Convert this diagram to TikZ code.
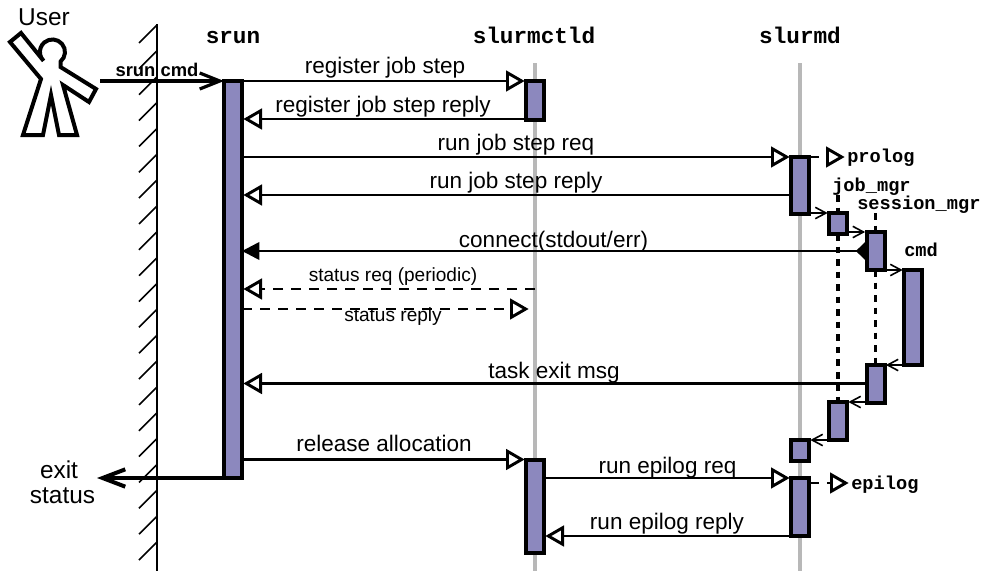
\documentclass[tikz,border=0pt]{standalone}
\usepackage{fontspec}
\setmainfont{Liberation Sans}
\setmonofont{Liberation Mono}
\usetikzlibrary{arrows.meta}
\definecolor{actfill}{RGB}{140,136,190}
\definecolor{lifegray}{RGB}{184,184,184}
\tikzset{
    actbox/.style={draw,line width=3pt,fill=actfill,anchor=north,minimum width=13.5pt,inner sep=0pt,outer sep=0pt},
    msg/.style={line width=2pt,-{Triangle[open,fill=white,length=14pt,width=15.5pt,line width=2.2pt]},shorten >=1pt},
    msgdash/.style={msg,dash pattern=on 7.5pt off 6pt},
    hop/.style={line width=1.3pt,-{Straight Barb[length=8pt,width=8.5pt,line width=1.2pt]},shorten >=1pt},
    cmdmsg/.style={line width=2.4pt,-{Straight Barb[length=15pt,width=12pt,line width=2.4pt]}},
    exitmsg/.style={line width=3pt,-{Straight Barb[length=17pt,width=13pt,line width=3pt]}},
    lifeline/.style={draw=lifegray,line width=3pt},
    spawnline/.style={line width=2.8pt,dash pattern=on 5pt off 4.4pt},
    msgtext/.style={anchor=base,inner sep=0pt,font=\fontsize{16.9pt}{20pt}\selectfont},
    smalltext/.style={anchor=base,inner sep=0pt,font=\fontsize{14.3pt}{17pt}\selectfont},
    bigtext/.style={anchor=base,inner sep=0pt,font=\fontsize{18.3pt}{20pt}\selectfont},
    headtext/.style={anchor=base,inner sep=0pt,font=\fontsize{17pt}{20pt}\selectfont\ttfamily\bfseries},
    proctext/.style={anchor=base west,inner sep=0pt,font=\fontsize{14pt}{17pt}\selectfont\ttfamily\bfseries},
}
\begin{document}
\begin{tikzpicture}[x=0.75pt,y=-0.75pt]
    \useasboundingbox (0,0) rectangle (981,571);
    % wall
    \coordinate (walltop) at (157,24);
    \coordinate (wallend) at (157,571);
    \draw[line width=1.5pt] (walltop) -- (wallend);
    \foreach \k in {0,...,20}
        \draw[line width=1.2pt] (157,25+25.85*\k) -- ++(-18,18);
    % user
    \draw[line width=3pt,fill=white,line join=miter] (21,33) -- (10,42) -- (41,79) -- (23,135) -- (43,135) -- (51,95) -- (59,135) -- (77,135) -- (63,85) -- (89,102) -- (96,89) -- (60.5,67) -- (60.5,61.6) arc[start angle=-50,end angle=225,radius=9.4pt] -- cycle;
    \node[bigtext] (user) at (44,25) {User};
    % lifelines
    \node[headtext] (srun) at (233,43) {srun};
    \node[headtext] (slurmctld) at (534,43) {slurmctld};
    \node[headtext] (slurmd) at (800,43) {slurmd};
    \coordinate (ctldtop) at (535,63);
    \coordinate (ctldend) at (535,571);
    \coordinate (slurmdtop) at (800,63);
    \coordinate (slurmdend) at (800,571);
    \draw[lifeline] (ctldtop) -- (ctldend);
    \draw[lifeline] (slurmdtop) -- (slurmdend);
    % boxes
    \node[actbox,minimum height=297.75pt] (srunbox) at (233,81) {};
    \node[actbox,minimum height=29.25pt] (ctldone) at (535,81) {};
    \node[actbox,minimum height=70pt] (ctldtwo) at (535,459.5) {};
    \node[actbox,minimum height=42.75pt] (dmone) at (800,157) {};
    \node[actbox,minimum height=15.75pt] (dmtwo) at (800,440) {};
    \node[actbox,minimum height=43.5pt] (dmthree) at (800,478) {};
    \node[actbox,minimum height=15.75pt] (jobone) at (838,213) {};
    \node[actbox,minimum height=28.5pt] (jobtwo) at (838,402) {};
    \node[actbox,minimum height=28.5pt] (sessone) at (875.5,232) {};
    \node[actbox,minimum height=28.5pt] (sesstwo) at (875.5,365) {};
    \node[actbox,minimum height=71.25pt] (cmdbox) at (913,270) {};
    % spawned processes
    \coordinate (jobtop) at (jobone.north |- 0,195);
    \coordinate (sesstop) at (sessone.north |- 0,213);
    \draw[spawnline] (jobtop) -- (jobone.north);
    \draw[spawnline] (jobone.south) -- (jobtwo.north);
    \draw[spawnline] (sesstop) -- (sessone.north);
    \draw[spawnline] (sessone.south) -- (sesstwo.north);
    \draw[hop] (dmone.east |- jobone.north) -- (jobone.north west);
    \draw[hop] (jobone.east |- sessone.north) -- (sessone.north west);
    \draw[hop] (sessone.east |- cmdbox.north) -- (cmdbox.north west);
    \draw[hop] (cmdbox.west |- sesstwo.north) -- (sesstwo.north east);
    \draw[hop] (sesstwo.west |- jobtwo.north) -- (jobtwo.north east);
    \draw[hop] (jobtwo.west |- dmtwo.north) -- (dmtwo.north east);
    % messages
    \coordinate (usertip) at (100,81);
    \coordinate (exittip) at (97,478);
    \draw[cmdmsg] (usertip) -- (srunbox.north west);
    \draw[exitmsg] (srunbox.south west) -- (exittip);
    \draw[msg] (srunbox.north east) -- (ctldone.north west);
    \draw[msg] (ctldone.west |- 0,119) -- (srunbox.east |- 0,119);
    \draw[msg] (srunbox.east |- dmone.north) -- (dmone.north west);
    \draw[msg] (dmone.west |- 0,195) -- (srunbox.east |- 0,195);
    \draw[line width=2pt,{Triangle[length=13pt,width=13pt]}-{Triangle[reversed,length=7pt,width=13pt]},shorten >=1pt] (srunbox.east |- 0,251) -- (sessone.west |- 0,251);
    \draw[msgdash] (ctldtop |- 0,289) -- (srunbox.east |- 0,289);
    \draw[msgdash] (srunbox.east |- 0,309) -- (530,309);
    \draw[msg] (sesstwo.west |- 0,383.5) -- (srunbox.east |- 0,383.5);
    \draw[msg] (srunbox.east |- ctldtwo.north) -- (ctldtwo.north west);
    \draw[msg] (ctldtwo.east |- dmthree.north) -- (dmthree.north west);
    \draw[msg] (dmthree.south west) -- (ctldtwo.east |- dmthree.south west);
    \coordinate (prologtip) at (846,157);
    \coordinate (epilogtip) at (850,483);
    \draw[msgdash] (dmone.north east) -- (prologtip);
    \draw[msgdash] (dmthree.east |- epilogtip) -- (epilogtip);
    % labels
    \node[msgtext] (reglabel) at (385,73) {register job step};
    \node[msgtext] (regreplylabel) at (383,112) {register job step reply};
    \node[msgtext] (runlabel) at (516,150) {run job step req};
    \node[msgtext] (runreplylabel) at (516,188) {run job step reply};
    \node[msgtext] (connectlabel) at (553.5,247) {connect(stdout/err)};
    \node[smalltext] (statuslabel) at (393,281) {status req (periodic)};
    \node[smalltext] (statusreplylabel) at (393,321) {status reply};
    \node[msgtext] (exitlabel) at (554,378) {task exit msg};
    \node[msgtext] (releaselabel) at (384,451) {release allocation};
    \node[msgtext] (epiloglabel) at (667.5,473) {run epilog req};
    \node[msgtext] (epilogreplylabel) at (667,529) {run epilog reply};
    \node[anchor=base,inner sep=0pt,font=\fontsize{13.8pt}{16pt}\selectfont\bfseries] (cmdlabel) at (157,76) {srun cmd};
    \node[bigtext] (exitname) at (59,478) {exit};
    \node[bigtext] (statusname) at (62.5,503) {status};
    \node[proctext] (prolog) at (847,162) {prolog};
    \node[proctext] (jobmgr) at (832,191) {job\_mgr};
    \node[proctext] (sessmgr) at (857,209) {session\_mgr};
    \node[proctext] (cmdname) at (904,256) {cmd};
    \node[proctext] (epilog) at (851,489) {epilog};
\end{tikzpicture}
\end{document}
